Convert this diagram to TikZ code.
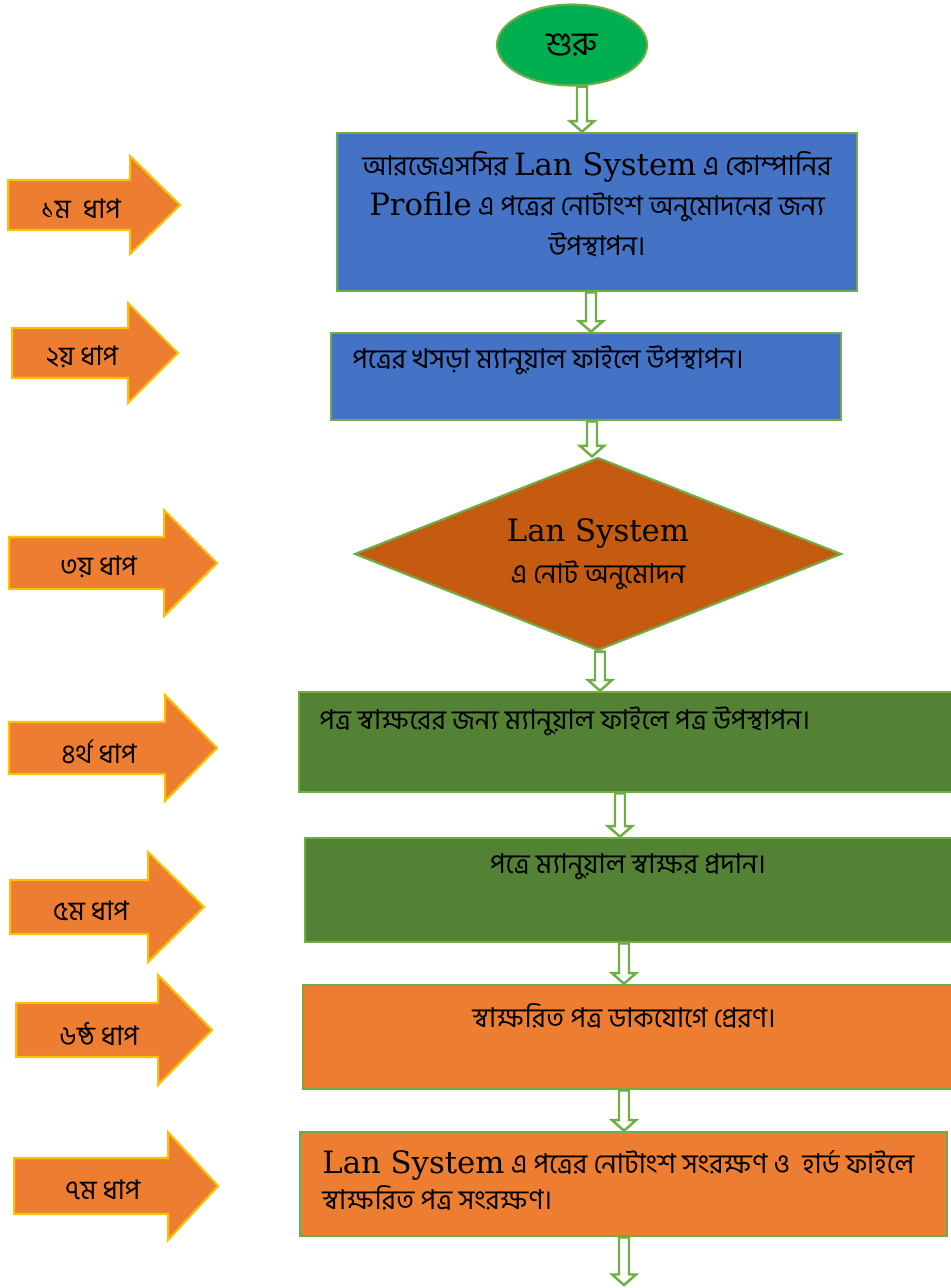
\documentclass[tikz,border=0pt]{standalone}
\usepackage{fontspec}
\setmainfont{DejaVu Serif}
\newfontfamily\bnfont[Script=Bengali]{Hind Siliguri}
\newfontfamily\latfont{DejaVu Serif}
\usepackage{tikz}
\usetikzlibrary{shapes.geometric}
\usetikzlibrary{calc,fit}

\definecolor{lgreen}{HTML}{70AD47}
\definecolor{sgreen}{HTML}{00B050}
\definecolor{sblue}{HTML}{4472C4}
\definecolor{dgreen}{HTML}{548235}
\definecolor{sorange}{HTML}{ED7D31}
\definecolor{sbrown}{HTML}{C55A11}
\definecolor{sgold}{HTML}{FFC000}

\newcommand{\lsys}[1]{{\latfont\fontsize{17.5}{20}\selectfont #1}}

\tikzstyle{stepbox}=[rectangle,draw=lgreen,line width=1.5pt,inner sep=0pt]
\tikzstyle{steparrow}=[fill=sorange,draw=sgold,line width=1.2pt]
\tikzstyle{steplabel}=[font=\bnfont\fontsize{15.3}{17}\selectfont,inner sep=0pt]
\tikzstyle{boxtext}=[font=\bnfont\fontsize{15.5}{17}\selectfont,inner sep=0pt]
\tikzset{hollow/.style={draw=lgreen,fill=white,line width=1.4pt,to path={
    let \p1=(\tikztostart), \p2=(\tikztotarget) in
    (\x1-0.1cm,\y1) -- (\x1-0.1cm,\y2+0.21cm) -- (\x1-0.24cm,\y2+0.21cm) -- (\x1,\y2)
    -- (\x1+0.24cm,\y2+0.21cm) -- (\x1+0.1cm,\y2+0.21cm) -- (\x1+0.1cm,\y1) -- cycle}}}

\begin{document}
\begin{tikzpicture}[x=0.02cm,y=-0.02cm]

  \useasboundingbox (0,0) rectangle (950,1288);

  % step arrows on the left
  \foreach \xa/\xb/\xt/\y/\bh/\hh/\name/\label in {8/130/180/205/25/49/s1/{১ম~~ধাপ}, 12/128/178/353/25/50/s2/{২য় ধাপ},
      9/164/217/563/26/53/s3/{৩য় ধাপ}, 9/165/217/748/26/53/s4/{৪র্থ ধাপ}, 10/148/204/907/27/55/s5/{৫ম ধাপ},
      16/158/212/1030/27/55/s6/{৬ষ্ঠ ধাপ}, 14/168/218/1186/28/54/s7/{৭ম ধাপ}}
  {
    \draw[steparrow] (\xa,\y-\bh) -- (\xb,\y-\bh) -- (\xb,\y-\hh) -- (\xt,\y) -- (\xb,\y+\hh) -- (\xb,\y+\bh) -- (\xa,\y+\bh) -- cycle;
    \node[steplabel] (\name) at ({(\xa+\xb)/2+12},\y+4) {\label};
  }

  \node[ellipse,fill=sgreen,draw=lgreen,line width=1.2pt,minimum width=3cm,minimum height=1.62cm] (start) at (572,45) {\bnfont\fontsize{19}{21}\selectfont শুরু};

  \foreach \xa/\ya/\xb/\yb/\col/\name in {337/133/857/291/sblue/b1, 331/333/841/420/sblue/b2, 299/692/958/792/dgreen/b4,
      305/838/958/942/dgreen/b5, 303/985/958/1089/sorange/b6, 300/1132/947/1236/sorange/b7}
    \node[stepbox,fill=\col,fit={(\xa,\ya) (\xb,\yb)}] (\name) {};

  \node[diamond,fill=sbrown,draw=lgreen,line width=1.2pt,minimum width=9.74cm,minimum height=3.86cm,aspect=2.5,inner sep=0pt,
        align=center,font=\bnfont\fontsize{15.5}{24}\selectfont] (d3) at (598,554) {\lsys{Lan System}\\ এ নোট অনুমোদন};

  % texts
  \node[boxtext,align=center,font=\bnfont\fontsize{15.5}{22.8}\selectfont] (t1) at (597,204)
    {আরজেএসসির \lsys{Lan System} এ কোম্পানির\\ \lsys{Profile} এ পত্রের নোটাংশ অনুমোদনের জন্য\\ উপস্থাপন।};
  \node[boxtext,anchor=west] (t2) at (352,360) {পত্রের খসড়া ম্যানুয়াল ফাইলে উপস্থাপন।};
  \node[boxtext,anchor=west] (t4) at (319,721) {পত্র স্বাক্ষরের জন্য ম্যানুয়াল ফাইলে পত্র উপস্থাপন।};
  \node[boxtext] (t5) at (628,867) {পত্রে ম্যানুয়াল স্বাক্ষর প্রদান।};
  \node[boxtext] (t6) at (624,1016) {স্বাক্ষরিত পত্র ডাকযোগে প্রেরণ।};
  \node[boxtext,anchor=west,align=left,font=\bnfont\fontsize{15.5}{20.5}\selectfont] (t7) at (322,1180)
    {\lsys{Lan System} এ পত্রের নোটাংশ সংরক্ষণ ও~~হার্ড ফাইলে\\ স্বাক্ষরিত পত্র সংরক্ষণ।};

  \coordinate (end) at (624,1285);

  % hollow connectors
  \draw[hollow] (start.south -| 582,0) to (b1.north -| 582,0);
  \draw[hollow] (b1.south -| 591,0) to (b2.north -| 591,0);
  \draw[hollow] (b2.south -| 592,0) to (d3.north -| 592,0);
  \draw[hollow] (d3.south -| 600,0) to (b4.north -| 600,0);
  \draw[hollow] (b4.south -| 620,0) to (b5.north -| 620,0);
  \draw[hollow] (b5.south -| 624,0) to (b6.north -| 624,0);
  \draw[hollow] (b6.south -| 624,0) to (b7.north -| 624,0);
  \draw[hollow] (b7.south -| 624,0) to (end);

\end{tikzpicture}
\end{document}
